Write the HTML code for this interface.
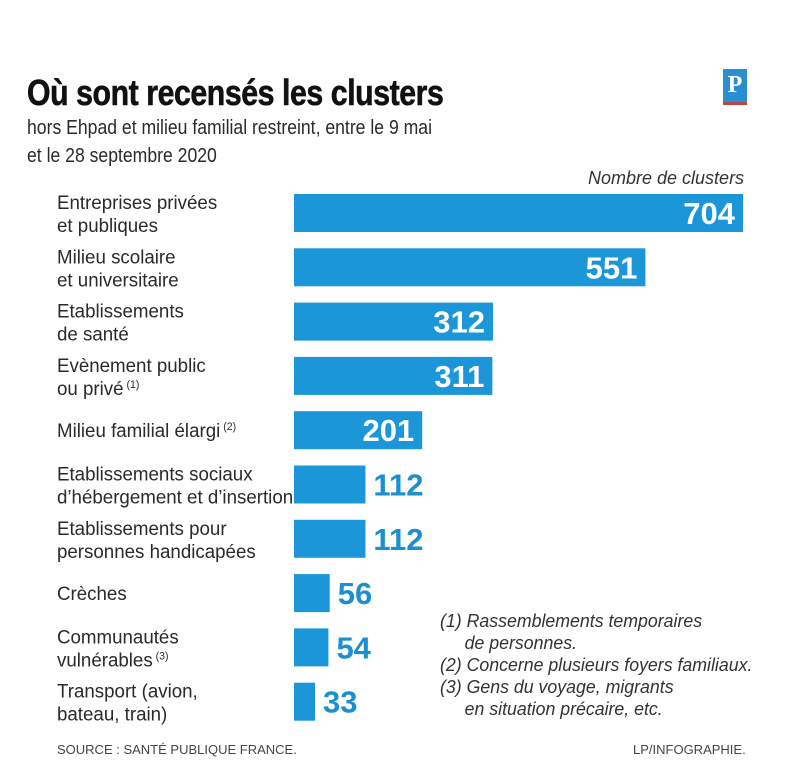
<!DOCTYPE html>
<html><head><meta charset="utf-8"><style>
body{margin:0;background:#fff;font-family:"Liberation Sans",sans-serif;}
#c{position:relative;width:800px;height:783px;overflow:hidden;background:#fff}
.t{position:absolute;white-space:nowrap;color:#2a2a2a}
</style></head><body>
<div id="c">
<div class="t" style="left:27px;top:72px;font-size:36px;font-weight:bold;color:#111;transform:scaleX(0.84);transform-origin:left top;letter-spacing:-0.5px;-webkit-text-stroke:0.6px #111">Où sont recensés les clusters</div>
<div class="t" style="left:27px;top:114px;font-size:20px;line-height:28px;transform:scaleX(0.88);transform-origin:left top">hors Ehpad et milieu familial restreint, entre le 9 mai<br>et le 28 septembre 2020</div>
<div style="position:absolute;left:723px;top:69px;width:24px;height:33px;background:#2a8fd0;color:#fff;font:bold 24px 'Liberation Serif',serif;text-align:center;line-height:32px;border-bottom:3px solid #b44">P</div>
<div class="t" style="left:588px;top:168px;font-size:18px;font-style:italic;color:#333">Nombre de clusters</div>
<svg id="s" width="800" height="783" style="position:absolute;left:0;top:0"></svg>
<div class="t" style="left:440px;top:610px;font-size:18px;font-style:italic;line-height:22px;color:#333;transform:scaleX(0.985);transform-origin:left top">(1) Rassemblements temporaires<br>&nbsp;&nbsp;&nbsp;&nbsp;&nbsp;de personnes.<br>(2) Concerne plusieurs foyers familiaux.<br>(3) Gens du voyage, migrants<br>&nbsp;&nbsp;&nbsp;&nbsp;&nbsp;en situation précaire, etc.</div>
<div class="t" style="left:57px;top:742px;font-size:13px;color:#444">SOURCE : SANTÉ PUBLIQUE FRANCE.</div>
<div class="t" style="left:633px;top:742px;font-size:13px;color:#444">LP/INFOGRAPHIE.</div>
</div>
<script>
const categories=[["Entreprises privées","et publiques"],["Milieu scolaire","et universitaire"],["Etablissements","de santé"],["Evènement public","ou privé|(1)"],["Milieu familial élargi|(2)"],["Etablissements sociaux","d’hébergement et d’insertion"],["Etablissements pour","personnes handicapées"],["Crèches"],["Communautés","vulnérables|(3)"],["Transport (avion,","bateau, train)"]];
const values=[704,551,312,311,201,112,112,56,54,33];
const NS="http://www.w3.org/2000/svg";
const svg=document.getElementById('s');
const x0=294,scale=449/704,y0=213,step=54.3,bh=38;
const xs=v=>v*scale, yc=i=>y0+i*step;
function mk(t,a){const e=document.createElementNS(NS,t);for(const k in a)e.setAttribute(k,a[k]);svg.appendChild(e);return e;}
values.forEach((v,i)=>{
  const w=xs(v),cy=yc(i);
  const r=mk('rect',{x:x0,y:cy-bh/2,width:w,height:bh,fill:'#1b97d9'});
  
  
  const inside=w>90;
  const t=mk('text',{x:inside?x0+w-8:x0+w+8,y:cy+11,'text-anchor':inside?'end':'start','font-size':31,'font-weight':'bold',fill:inside?'#fff':'#1b8fd0','font-family':'Liberation Sans,sans-serif'});
  t.textContent=v;
  
  
  const lines=categories[i];
  const g=mk('text',{x:57,'font-size':19.5,fill:'#2a2a2a','font-family':'Liberation Sans,sans-serif',transform:'translate(57 0) scale(0.96 1) translate(-57 0)'});
  
  
  lines.forEach((ln,j)=>{
    const [main,sup]=ln.split('|');
    const ty=lines.length==1?cy+7:cy-4+j*23;
    const s=document.createElementNS(NS,'tspan');s.setAttribute('x',57);s.setAttribute('y',ty);s.textContent=main;g.appendChild(s);
    if(sup){const p=document.createElementNS(NS,'tspan');p.setAttribute('dy',-7);p.setAttribute('font-size',11);p.textContent=' '+sup;g.appendChild(p);}
  });
});
</script>
</body></html>
